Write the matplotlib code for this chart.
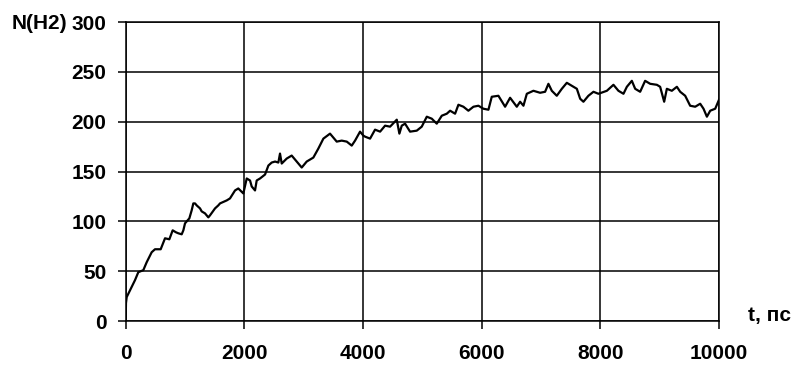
import matplotlib
matplotlib.use("Agg")
import matplotlib.pyplot as plt

# --- DATA ---
t_ps = [0, 5, 17, 100, 157, 213, 297, 354, 438, 494, 590, 663, 736, 792, 848,
        888, 944, 972, 1000, 1073, 1112, 1140, 1169, 1197, 1253, 1281, 1337,
        1393, 1421, 1506, 1561, 1590, 1703, 1758, 1843, 1898, 1983, 2040, 2096,
        2124, 2180, 2208, 2264, 2349, 2405, 2461, 2518, 2573, 2601, 2630, 2714,
        2798, 2883, 2967, 3051, 3163, 3247, 3332, 3444, 3557, 3641, 3726, 3810,
        3866, 3950, 4006, 4034, 4119, 4203, 4288, 4372, 4456, 4569, 4613, 4653,
        4709, 4793, 4906, 4990, 5075, 5159, 5243, 5328, 5412, 5468, 5552, 5608,
        5692, 5776, 5861, 5945, 6029, 6114, 6170, 6282, 6395, 6479, 6592, 6648,
        6704, 6761, 6872, 6985, 7069, 7125, 7182, 7266, 7351, 7435, 7519, 7604,
        7660, 7715, 7799, 7884, 7968, 8110, 8221, 8305, 8390, 8447, 8531, 8587,
        8671, 8755, 8840, 8953, 9008, 9076, 9121, 9205, 9290, 9346, 9430, 9514,
        9599, 9683, 9739, 9796, 9852, 9936, 10000]
n_h2 = [0, 18, 24, 34, 41, 49, 51, 59, 69, 72, 72, 83, 82, 91, 89,
        88, 87, 91, 98, 103, 111, 118, 118, 116, 113, 110, 108,
        104, 106, 113, 116, 118, 121, 123, 131, 133, 128, 143, 141,
        135, 131, 141, 143, 147, 156, 159, 160, 159, 168, 158, 163,
        166, 160, 154, 160, 164, 173, 183, 188, 180, 181, 180, 176,
        181, 190, 186, 185, 183, 192, 190, 196, 195, 202, 188, 196,
        198, 190, 191, 195, 205, 203, 198, 206, 208, 211, 208, 217,
        215, 211, 215, 216, 213, 212, 225, 226, 215, 224, 215, 220,
        216, 228, 231, 229, 230, 238, 231, 226, 233, 239, 236, 233,
        223, 220, 226, 230, 228, 231, 237, 231, 228, 235, 241, 233,
        230, 241, 238, 237, 235, 220, 233, 231, 235, 230, 226, 216,
        215, 218, 213, 205, 211, 213, 222]

x_ticks = [0, 2000, 4000, 6000, 8000, 10000]
y_ticks = [0, 50, 100, 150, 200, 250, 300]

plt.rcParams['font.family'] = ['Liberation Sans', 'DejaVu Sans']

fig = plt.figure(figsize=(7.98, 3.65), dpi=100)
ax = fig.add_axes([0.1575, 0.1205, 0.7435, 0.8192])

ax.plot(t_ps, n_h2, color='black', lw=1.6)

ax.set_xlim(0, 10000)
ax.set_ylim(0, 300)
ax.set_xticks(x_ticks)
ax.set_yticks(y_ticks)
ax.grid(True, color='black', lw=1.1)
for s in ax.spines.values():
    s.set_linewidth(1.1)
ax.tick_params(axis='y', length=5.8, width=1.1, pad=8, labelsize=15)
ax.tick_params(axis='x', length=5.8, width=1.1, pad=11, labelsize=15)
for lab in ax.get_xticklabels() + ax.get_yticklabels():
    lab.set_fontweight('bold')

# --- AXIS TITLES ---
fig.text(0.014, 0.935, 'N(H2)', fontsize=15, fontweight='bold', va='center', ha='left')
fig.text(0.991, 0.135, 't, пс', fontsize=15, fontweight='bold', va='center', ha='right')

fig.savefig('out.png', dpi=100, facecolor='white')
